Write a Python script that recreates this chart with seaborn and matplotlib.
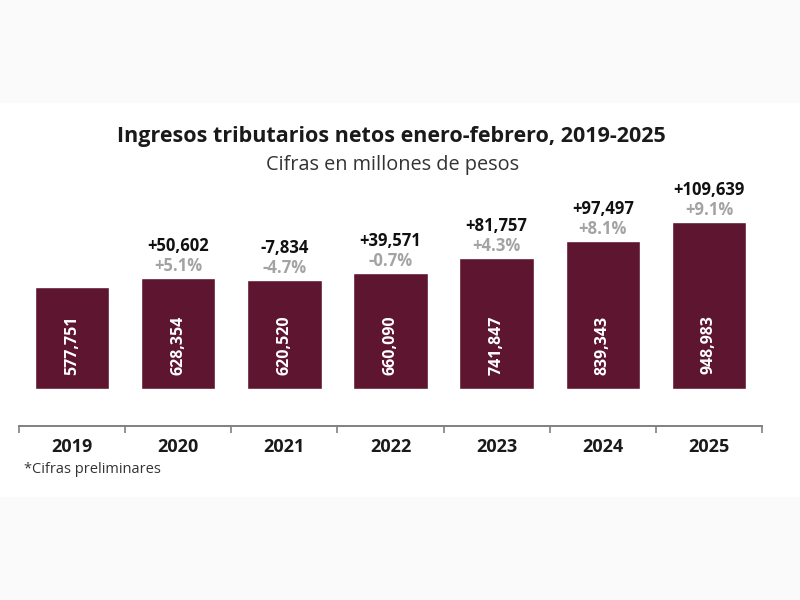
import numpy as np
import pandas as pd
import matplotlib
matplotlib.use("Agg")
import matplotlib.pyplot as plt
from matplotlib.patches import Rectangle
import seaborn as sns

# ─────────────────────────────────────────
# DATOS
# ─────────────────────────────────────────

years   = ["2019", "2020", "2021", "2022", "2023", "2024", "2025"]
totales = [577751, 628354, 620520, 660090, 741847, 839343, 948983]
deltas  = [None, 50602, -7834, 39571, 81757, 97497, 109639]
pcts    = [None, 5.1, -4.7, -0.7, 4.3, 8.1, 9.1]

GUINDA = "#5e1530"
GRIS   = "#a3a3a3"

sns.set_style("white")
plt.rcParams["font.family"] = ["Open Sans", "DejaVu Sans"]

df = pd.DataFrame({"year": years, "total": totales})

fig = plt.figure(figsize=(8, 6), dpi=100, facecolor="#fafafa")
# franja blanca central
fig.patches.append(Rectangle((0, 0.1717), 1, 0.6566, transform=fig.transFigure,
                             facecolor="white", edgecolor="none", zorder=-10))

ax = fig.add_axes([0.02375, 0.3517, 0.92875, 0.2933])
ax.set_facecolor("none")

sns.barplot(data=df, x="year", y="total", color=GUINDA, width=0.7,
            saturation=1, ax=ax)

ax.set_xlim(-0.5, 6.5)
ax.set_ylim(0, 1000000)

# ─────────────────────────────────────────
# ETIQUETAS
# ─────────────────────────────────────────

for i, (tot, d, p) in enumerate(zip(totales, deltas, pcts)):
    ax.text(i, 250000, f"{tot:,}", rotation=90, ha="center", va="center",
            color="white", fontsize=11.5, fontweight="bold")
    if d is None:
        continue
    ax.annotate(f"{p:+.1f}%", (i, tot), xytext=(0, 8.8), textcoords="offset points",
                ha="center", va="center", color=GRIS, fontsize=12,
                fontweight="bold")
    ax.annotate(f"{d:+,}", (i, tot), xytext=(0, 23), textcoords="offset points",
                ha="center", va="center", color="#111111", fontsize=12,
                fontweight="bold")

# eje inferior separado de las barras
for s in ["top", "right", "left"]:
    ax.spines[s].set_visible(False)
ax.spines["bottom"].set_position(("outward", 26.6))
ax.spines["bottom"].set_color("#808080")
ax.spines["bottom"].set_linewidth(1.4)
ax.set_yticks([])
ax.set_xlabel("")
ax.set_ylabel("")

ax.set_xticks(range(len(years)), labels=years)
ax.set_xticks(np.arange(-0.5, len(years), 1), minor=True)
ax.tick_params(axis="x", which="both", bottom=True)
ax.tick_params(axis="x", which="major", length=0, pad=9, labelsize=13,
               labelcolor="#1a1a1a")
ax.tick_params(axis="x", which="minor", length=5, width=1.2, color="#808080",
               direction="out")
for lbl in ax.get_xticklabels():
    lbl.set_fontweight("bold")

# ─────────────────────────────────────────
# TÍTULOS
# ─────────────────────────────────────────

fig.text(0.489, 0.772, "Ingresos tributarios netos enero-febrero, 2019-2025",
         ha="center", va="center", fontsize=15.5, fontweight="bold", color="#1a1a1a")
fig.text(0.491, 0.725, "Cifras en millones de pesos", ha="center", va="center",
         fontsize=14.3, color="#333333")
fig.text(0.03, 0.217, "*Cifras preliminares", ha="left", va="center",
         fontsize=10.5, color="#333333")

fig.savefig("out.png", dpi=100, facecolor=fig.get_facecolor())
